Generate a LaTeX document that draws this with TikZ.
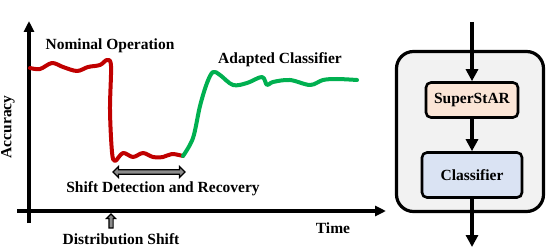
\documentclass[tikz,border=0pt]{standalone}
\usepackage{fontspec}
\setmainfont{Liberation Serif}
\usetikzlibrary{arrows.meta,shapes.arrows,positioning}
\definecolor{dropred}{HTML}{C00000}
\definecolor{adaptgreen}{HTML}{00B050}
\definecolor{panelgrey}{HTML}{F2F2F2}
\definecolor{starpeach}{HTML}{FBE5D6}
\definecolor{classblue}{HTML}{DAE3F3}
\definecolor{markgrey}{HTML}{8C8C8C}

\begin{document}
\begin{tikzpicture}[
  x=1pt, y=-1pt,
  font=\fontsize{15.5}{17}\selectfont\bfseries,
  >=Latex,
  axis/.style={line width=3.4pt},
  trace/.style={line width=4pt, line cap=round, line join=round},
  label/.style={inner sep=0pt},
  panel/.style={draw, line width=3.2pt, fill=panelgrey, rounded corners=17pt,
    minimum width=147pt, minimum height=160pt},
  block/.style={draw, line width=2.6pt, rounded corners=5pt, inner sep=0pt},
  flow/.style={line width=3.4pt, -{Triangle[length=12pt,width=12pt]}},
  hollow/.style={draw, line width=1.1pt, fill=markgrey, inner sep=1.5pt}
]
\useasboundingbox (0,0) rectangle (548,248);

% axes
\coordinate (yfoot) at (29,223);
\coordinate (ytop) at (29,21);
\coordinate (xfoot) at (17,211);
\coordinate (xtip) at (386,211);
\draw[axis, -{Triangle[length=11pt,width=10pt]}] (yfoot) -- (ytop);
\draw[axis, -{Triangle[length=11pt,width=10pt]}] (xfoot) -- (xtip);

% accuracy trace
\draw[trace, dropred] plot[smooth, tension=0.55] coordinates {
  (30,68) (40,69) (52,63) (63,67) (77,71) (88,67) (100,65) (107,60)
  (111,66) (110,110) (112,152) (115,161) (123,153) (133,157) (143,153)
  (153,157) (163,157) (172,154) (183,156)};
\draw[trace, adaptgreen] plot[smooth, tension=0.55] coordinates {
  (183,156) (193,138) (200,106) (207,83) (213,72) (220,75) (233,85)
  (247,83) (262,77) (267,85) (273,82) (290,80) (310,85) (323,80)
  (337,79) (357,80)};

% labels
\node[label] (nominal) at (110,46) {Nominal Operation};
\node[label] (adapted) at (280,60) {Adapted Classifier};
\node[label] (recovtxt) at (163,189) {Shift Detection and Recovery};
\node[label] (time) at (333,228) {Time};
\node[label] (distshift) at (121,239.5) {Distribution Shift};
\node[label, rotate=90] (accuracy) at (8,127) {Accuracy};

\node[hollow, double arrow, double arrow head extend=3pt,
  minimum width=11pt, minimum height=72pt] (recov) at (149,172) {};
\node[hollow, single arrow, single arrow head extend=2.5pt, rotate=90,
  minimum width=9pt, minimum height=14pt] (shiftmark) at (111,222) {};

% pipeline panel
\node[panel] (panel) at (470,131.5) {};
\node[block, fill=starpeach, minimum width=92pt, minimum height=35pt]
  (superstar) at (472,100) {SuperStAR};
\node[block, fill=classblue, minimum width=100pt, minimum height=45pt]
  (classifier) at (472,175) {Classifier};

\coordinate (feedin) at (472,22);
\coordinate (feedout) at (472,247);
\draw[flow] (feedin) -- (superstar);
\draw[flow] (superstar) -- (classifier);
\draw[flow] (classifier) -- (feedout);

\end{tikzpicture}
\end{document}
